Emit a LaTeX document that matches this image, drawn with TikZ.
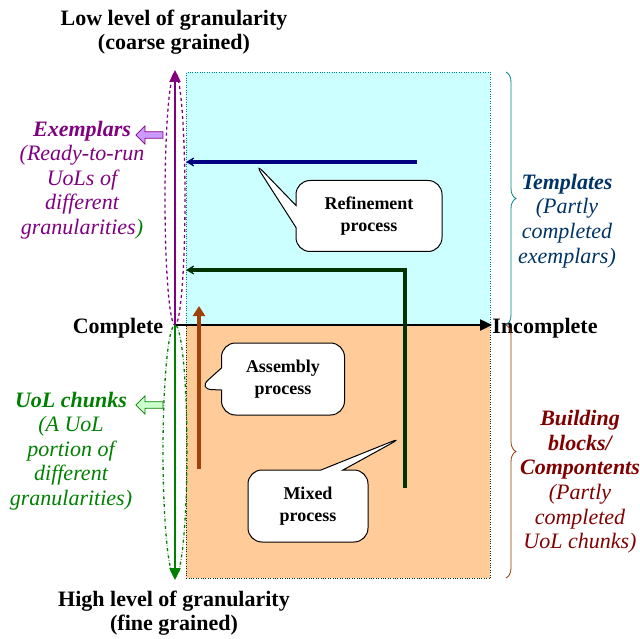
\documentclass[tikz,border=0pt]{standalone}
\usepackage{fontspec}
\setmainfont{Liberation Serif}
\usetikzlibrary{arrows.meta, shapes.callouts, shapes.arrows, decorations.pathreplacing}

\definecolor{skyfill}{HTML}{CCFFFF}
\definecolor{peach}{HTML}{FFCC99}
\definecolor{plum}{HTML}{800080}
\definecolor{lavender}{HTML}{CC99FF}
\definecolor{leaf}{HTML}{008000}
\definecolor{mint}{HTML}{CCFFCC}
\definecolor{deepnavy}{HTML}{000080}
\definecolor{forest}{HTML}{003300}
\definecolor{rust}{HTML}{A0400A}
\definecolor{slateblue}{HTML}{003366}
\definecolor{maroon}{HTML}{800000}
\definecolor{tealline}{HTML}{008080}
\definecolor{brownline}{HTML}{993300}

\begin{document}
\begin{tikzpicture}[
    x=1pt, y=-1pt,
    txt/.style={font=\fontsize{22}{24.6}\selectfont, align=center},
    heading/.style={txt, font=\fontsize{22}{24.6}\selectfont\bfseries},
    region/.style={rectangle, dotted, minimum width=304, minimum height=253, inner sep=0, anchor=north west},
    axis/.style={line width=2.4pt, -{Triangle[length=12pt, width=11pt]}},
    proc/.style={line width=4pt, -{Stealth[length=12pt, width=14pt, inset=8pt]}},
    bubble/.style={rectangle callout, draw, line width=1pt, fill=white, rounded corners=14pt, align=center,
        callout pointer width=22pt, font=\fontsize{18}{21.5}\selectfont\bfseries},
    tag/.style={single arrow, draw, thick, shape border rotate=180, minimum height=27, minimum width=18,
        single arrow head extend=3.5, inner sep=1.5},
    curly/.style={decorate, decoration={brace, amplitude=10pt}, thick}
]
    \useasboundingbox (0,0) rectangle (640,639);

    % Regions
    \node[region, draw=tealline, fill=skyfill] (upper) at (186,72) {};
    \node[region, draw=forest, fill=peach] (lower) at (186,325) {};

    % Ellipses
    \draw[plum, dashed, line width=1.3pt] (175,199) ellipse [x radius=10, y radius=126];
    \draw[leaf, dash dot, line width=1.3pt] (175,451) ellipse [x radius=12, y radius=126];

    % Axes
    \coordinate (origin) at (175,325);
    \coordinate (right) at (492,325);
    \coordinate (top) at (175,70);
    \coordinate (bottom) at (175,580);
    \draw[axis] (origin) -- (right);
    \draw[axis, plum] (origin) -- (top);
    \draw[axis, leaf] (origin) -- (bottom);

    \node[heading] (complete) at (118,328) {Complete};
    \node[heading] (incomplete) at (545,328) {Incomplete};
    \node[heading] (low) at (174,32) {Low level of granularity\\(coarse grained)};
    \node[heading] (high) at (174,613) {High level of granularity\\(fine grained)};

    % Processes
    \coordinate (refstart) at (417,162);
    \coordinate (refend) at (186,162);
    \coordinate (mixstart) at (405,488);
    \coordinate (mixend) at (186,270);
    \coordinate (asmstart) at (199,469);
    \coordinate (asmend) at (199,306);
    \draw[proc, deepnavy] (refstart) -- (refend);
    \draw[proc, forest] (mixstart) |- (mixend);
    \draw[line width=4pt, rust, -{Triangle[length=10pt, width=12pt]}] (asmstart) -- (asmend);

    \node[bubble, minimum width=146, minimum height=71, callout absolute pointer={(254,162)}]
        (refine) at (369,216) {Refinement\\process};
    \node[bubble, minimum width=123, minimum height=72, callout absolute pointer={(198,389)}]
        (assembly) at (283,379) {Assembly\\process};
    \node[bubble, minimum width=120, minimum height=72, callout absolute pointer={(403,437)}]
        (mixed) at (308,506) {Mixed\\process};

    % Left labels
    \node[tag, draw=plum, fill=lavender] (extag) at (151,135) {};
    \node[txt, text=plum, font=\fontsize{22}{24.6}\selectfont\itshape] (exemplars) at (82,180)
        {\textbf{Exemplars}\\(Ready-to-run\\UoLs of\\different\\granularities\textcolor{leaf}{)}};
    \node[tag, draw=leaf, fill=mint] (chtag) at (151,405) {};
    \node[txt, text=leaf, font=\fontsize{22}{24.6}\selectfont\itshape] (chunks) at (71,451)
        {\textbf{UoL chunks}\\(A UoL\\portion of\\different\\granularities)};

    % Right labels
    \draw[curly, tealline] (506,72) -- (506,325);
    \draw[curly, brownline] (506,325) -- (506,578);
    \node[txt, text=slateblue, font=\fontsize{22}{24.6}\selectfont\itshape] (templates) at (567,221)
        {\textbf{Templates}\\(Partly\\completed\\exemplars)};
    \node[txt, text=maroon, font=\fontsize{22}{24.6}\selectfont\itshape] (blocks) at (580,482)
        {\textbf{Building}\\\textbf{blocks/}\\\textbf{Compontents}\\(Partly\\completed\\UoL chunks)};
\end{tikzpicture}
\end{document}
